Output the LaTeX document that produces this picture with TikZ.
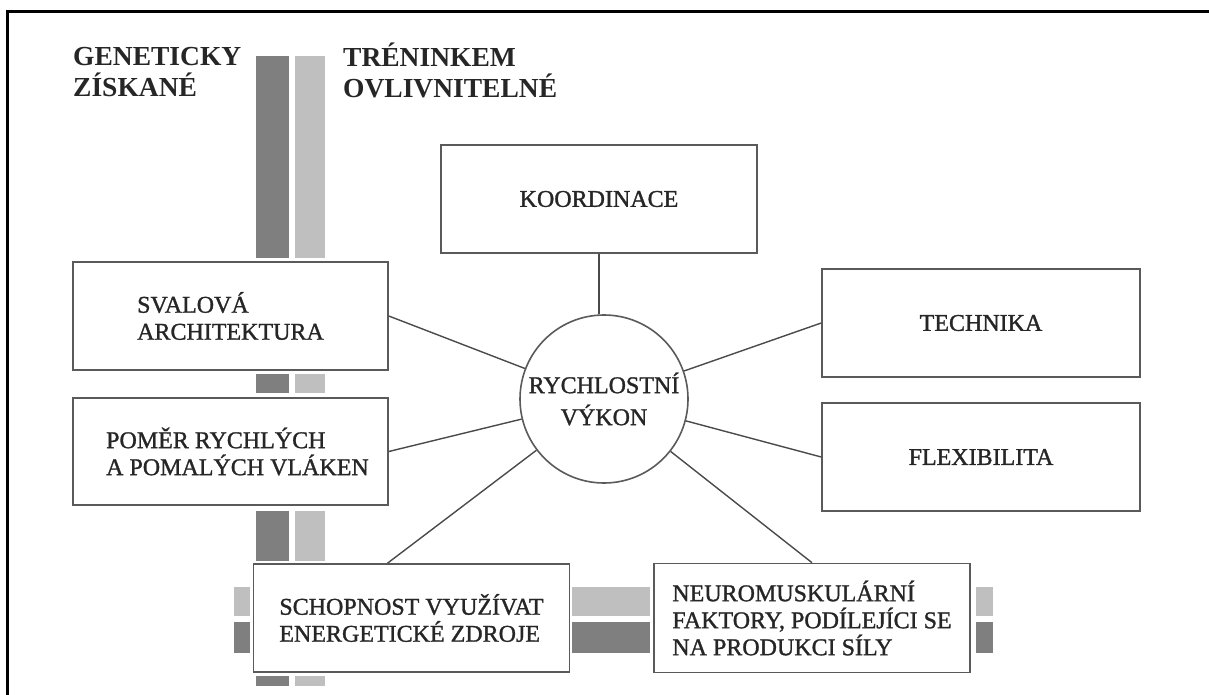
\documentclass[tikz,border=0pt]{standalone}
\usepackage{fontspec}
\setmainfont{Liberation Serif}
\newfontfamily\heavyserif{Liberation Serif}[RawFeature={embolden=1.2}]
\usetikzlibrary{calc}
\definecolor{bardark}{HTML}{7F7F7F}
\definecolor{barlight}{HTML}{BFBFBF}
\definecolor{edgegray}{HTML}{5A5A5A}
\definecolor{linkgray}{HTML}{4A4A4A}
\definecolor{inkgray}{HTML}{262626}
\begin{document}
\begin{tikzpicture}[x=1pt,y=-1pt,
  box/.style={draw=edgegray, line width=1.6pt, fill=white, inner sep=0pt,
    text=inkgray, font=\heavyserif\fontsize{24}{27}\selectfont},
  head/.style={font=\bfseries\fontsize{27.5}{31}\selectfont, align=left,
    inner sep=0pt, anchor=west, text=inkgray},
  hub/.style={draw=edgegray, line width=1.6pt, circle, minimum size=168pt,
    inner sep=0pt, align=center, text=inkgray, font=\heavyserif\fontsize{24}{32}\selectfont},
  link/.style={draw=linkgray, line width=1.4pt},
  dark/.style={fill=bardark},
  light/.style={fill=barlight}]
\useasboundingbox (0,0) rectangle (1209,695);
\fill[white] (0,0) rectangle (1209,695);
% frame
\draw[line width=3pt] (7.5,695) -- (7.5,11.5) -- (1209,11.5);
% headings
\node[head] (gen) at (73,72.5) {GENETICKY\\ZÍSKANÉ};
\node[head] (tren) at (343,70) {TRÉNINKEM\\OVLIVNITELNÉ};
% bars
\fill[dark]  (256,56) rectangle (289,258);
\fill[light] (295,56) rectangle (325,258);
\fill[dark]  (256,374) rectangle (289,393);
\fill[light] (295,374) rectangle (325,393);
\fill[dark]  (256,511) rectangle (289,561);
\fill[light] (295,511) rectangle (325,561);
\fill[dark]  (256,676) rectangle (289,686);
\fill[light] (295,676) rectangle (325,686);
\fill[light] (234,587) rectangle (250,616);
\fill[dark]  (234,622) rectangle (250,653);
\fill[light] (572,587) rectangle (650,616);
\fill[dark]  (572,622) rectangle (650,653);
\fill[light] (976,587) rectangle (993,616);
\fill[dark]  (976,622) rectangle (993,653);
% boxes
\node[box, minimum width=316pt, minimum height=108pt] (koord) at (599,199) {KOORDINACE};
\node[box, minimum width=315pt, minimum height=108pt, align=left] (sval) at (230.5,316) {SVALOVÁ\\ARCHITEKTURA};
\node[box, minimum width=315pt, minimum height=107pt, align=left] (pomer) at (230.5,451.5)
  {\hspace*{14pt}POMĚR RYCHLÝCH\\\hspace*{14pt}A POMALÝCH VLÁKEN};
\node[box, minimum width=318pt, minimum height=108pt] (tech) at (981,323) {TECHNIKA};
\node[box, minimum width=318pt, minimum height=108pt] (flex) at (981,457) {FLEXIBILITA};
\node[box, minimum width=316pt, minimum height=108pt, align=left] (schop) at (411.5,618)
  {SCHOPNOST VYUŽÍVAT\\ENERGETICKÉ ZDROJE};
\node[box, minimum width=316pt, minimum height=109pt, align=left] (neuro) at (812,618)
  {NEUROMUSKULÁRNÍ\\FAKTORY, PODÍLEJÍCI SE\\NA PRODUKCI SÍLY};
% hub
\node[hub] (c) at (604,399) {RYCHLOSTNÍ\\VÝKON};
% connectors
\draw[link] (koord.south) -- (koord.south |- c.north);
\draw[link] (sval.east) -- (c);
\draw[link] (pomer.east) -- (c);
\draw[link] (tech.west) -- (c);
\draw[link] (flex.west) -- (c);
\draw[link] ([xshift=-24pt]schop.north) -- (c);
\draw[link] (neuro.north) -- (c);
\end{tikzpicture}
\end{document}
